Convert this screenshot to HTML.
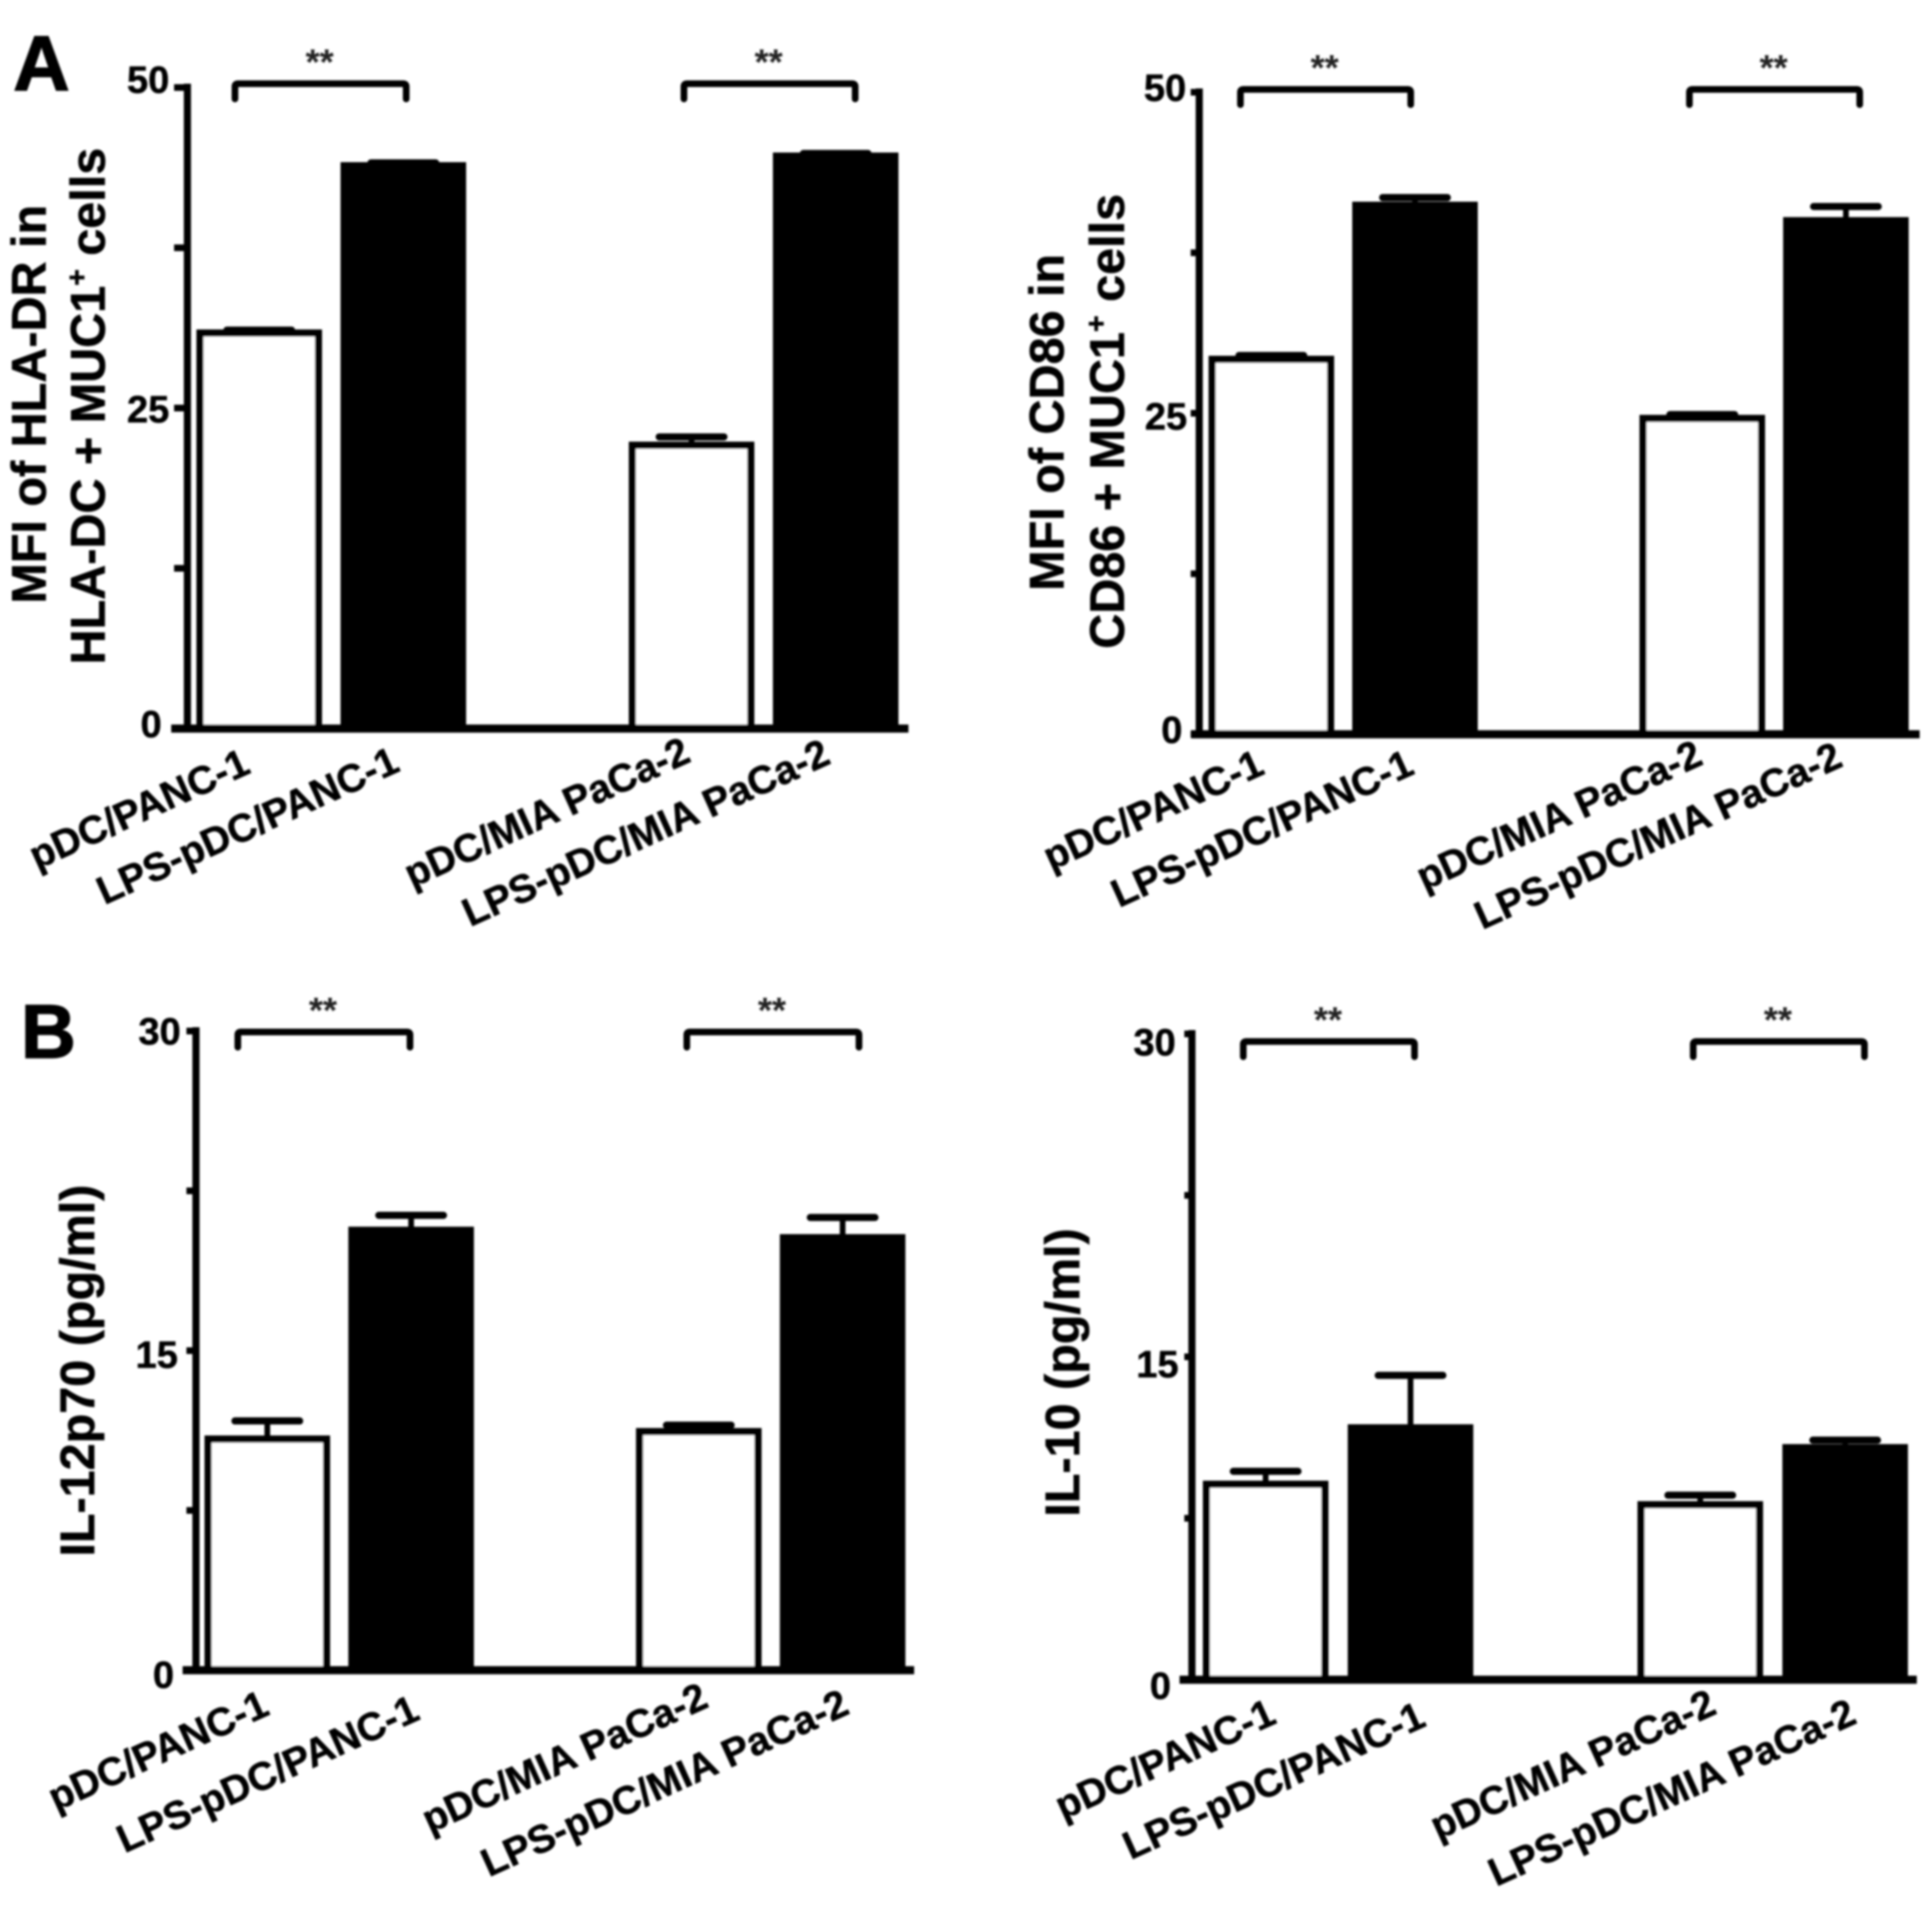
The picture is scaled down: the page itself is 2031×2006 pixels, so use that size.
<!DOCTYPE html>
<html lang="en">
<head>
<meta charset="utf-8">
<title>MFI and cytokine bar charts</title>
<style>
  html, body { margin: 0; padding: 0; background: #fff; }
  svg { display: block; }
  text { font-family: "Liberation Sans", Arial, sans-serif; font-weight: bold; fill: #000; }
</style>
</head>
<body>
<svg id="figure" xmlns="http://www.w3.org/2000/svg" width="2031" height="2006" viewBox="0 0 2031 2006">
  <defs>
    <filter id="soft" x="-2%" y="-2%" width="104%" height="104%"><feGaussianBlur stdDeviation="1"/></filter>
  </defs>
  <rect width="2031" height="2006" fill="#fff"/>
  <g id="root" filter="url(#soft)">
    <text x="14" y="95" font-size="82" stroke="#000" stroke-width="1.5">A</text>
    <text x="22" y="1112" font-size="80" stroke="#000" stroke-width="1.5">B</text>
  </g>
</svg>
<script>
// ---- data ----
const categories = ['pDC/PANC-1', 'LPS-pDC/PANC-1', 'pDC/MIA PaCa-2', 'LPS-pDC/MIA PaCa-2'];
const categorySlots = [0, 1, 3, 4];

const hlaDrValues = [30.85, 43.9, 22.1, 44.65];
const hlaDrErrors = [0.22, 0.22, 0.65, 0.2];
const hlaDrTicks = [0, 25, 50];

const cd86Values = [29.2, 41.2, 24.6, 40.0];
const cd86Errors = [0.3, 0.6, 0.3, 1.1];
const cd86Ticks = [0, 25, 50];

const il12Values = [10.85, 20.65, 11.2, 20.3];
const il12Errors = [0.85, 0.7, 0.3, 0.95];
const il12Ticks = [0, 15, 30];

const il10Values = [9.08, 11.7, 8.13, 10.78];
const il10Errors = [0.6, 2.44, 0.44, 0.35];
const il10Ticks = [0, 15, 30];

const significanceLabel = '**';
const significantPairs = [[0, 1], [2, 3]];

// ---- panel layout (geometry only) ----
const panels = [
  { id: 'hla-dr', values: hlaDrValues, errors: hlaDrErrors, ticks: hlaDrTicks,
    axisX: 197, yZero: 766, yTop: 92, xStart: 180, xEnd: 955, firstBar: 272.5, step: 151.5, tickLen: 14,
    tickRight: [170, 178, 178], tickNudge: [9, 15, 5.5],
    labelOffset: [[-7.5, 46], [-2, 44], [1, 34], [-3.5, 36]],
    bracketY: 88, bracketX: [247, 719], bracketLen: 180,
    titleLines: [
      { x: 48, y: 425, parts: ['MFI of HLA-DR in'] },
      { x: 110, y: 427, parts: ['HLA-DC + MUC1', '+', ' cells'] }
    ] },
  { id: 'cd86', values: cd86Values, errors: cd86Errors, ticks: cd86Ticks,
    axisX: 1260.7, yZero: 772, yTop: 97, xStart: 1252, xEnd: 2018, firstBar: 1336.5, step: 151, tickLen: 9,
    tickRight: [1243, 1248, 1247], tickNudge: [9, 17, 9],
    labelOffset: [[-5.5, 41], [1, 41], [2.5, 31], [-1.5, 33]],
    bracketY: 94, bracketX: [1304, 1776], bracketLen: 179,
    titleLines: [
      { x: 1118, y: 444, parts: ['MFI of CD86 in'] },
      { x: 1181.5, y: 443, parts: ['CD86 + MUC1', '+', ' cells'] }
    ] },
  { id: 'il-12p70', values: il12Values, errors: il12Errors, ticks: il12Ticks,
    axisX: 206, yZero: 1756, yTop: 1084, xStart: 192, xEnd: 961, firstBar: 281, step: 151.2, tickLen: 10,
    tickRight: [183, 187, 190], tickNudge: [18.5, 18, 14],
    labelOffset: [[4, 46], [11, 51], [12, 38], [9, 45]],
    bracketY: 1085, bracketX: [250, 722], bracketLen: 181,
    titleLines: [
      { x: 99, y: 1441, parts: ['IL-12p70 (pg/ml)'] }
    ] },
  { id: 'il-10', values: il10Values, errors: il10Errors, ticks: il10Ticks,
    axisX: 1253, yZero: 1766, yTop: 1087, xStart: 1240, xEnd: 2015, firstBar: 1330.5, step: 152.3, tickLen: 8,
    tickRight: [1231, 1239, 1236], tickNudge: [20, 21.5, 22.5],
    labelOffset: [[13, 45], [18, 48], [19, 35], [14, 45]],
    bracketY: 1095, bracketX: [1307, 1780], bracketLen: 180,
    titleLines: [
      { x: 1134.5, y: 1443, parts: ['IL-10 (pg/ml)'] }
    ] }
];

const NS = 'http://www.w3.org/2000/svg';
const root = document.getElementById('root');
const BAR_W = 132, STROKE = 7.5, CAP_W = 68;

function make(tag, attrs, parent) {
  const el = document.createElementNS(NS, tag);
  for (const k in attrs) el.setAttribute(k, attrs[k]);
  parent.appendChild(el);
  return el;
}

panels.forEach(function (p) {
  const maxTick = p.ticks[p.ticks.length - 1];
  const yScale = function (v) { return p.yZero - (v / maxTick) * (p.yZero - p.yTop); };
  const xScale = function (slot) { return p.firstBar + slot * p.step; };

  const g = make('g', {}, root);
  
  

  // bars and error bars
  p.values.forEach(function (v, i) {
    const cx = xScale(categorySlots[i]);
    const top = yScale(v);
    const capY = yScale(v + p.errors[i]);
    const black = i % 2 === 1;

    const stem = make('line', { x1: cx, x2: cx, y1: top, y2: capY, stroke: '#000', 'stroke-width': 6 }, g);
    
    

    const cap = make('line', { x1: cx - CAP_W / 2, x2: cx + CAP_W / 2, y1: capY, y2: capY, stroke: '#000', 'stroke-width': 7.5, 'stroke-linecap': 'round' }, g);
    
    

    const bar = make('rect', {
      x: cx - BAR_W / 2 + STROKE / 2, y: top,
      width: BAR_W - STROKE, height: p.yZero - top,
      fill: black ? '#000' : '#fff', stroke: '#000', 'stroke-width': STROKE
    }, g);
    
    

    const off = p.labelOffset[i];
    const lx = cx + off[0], ly = p.yZero + off[1];
    const label = make('text', {
      x: lx, y: ly, 'font-size': 41.5, 'text-anchor': 'end', stroke: '#000', 'stroke-width': 0.5,
      transform: 'rotate(-24.4 ' + lx + ' ' + ly + ')'
    }, g);
    label.textContent = categories[i];
    
    
  });

  // axes
  const yAxis = make('line', { x1: p.axisX, x2: p.axisX, y1: p.yTop - 4, y2: p.yZero + 3, stroke: '#000', 'stroke-width': 7.5 }, g);
  
  

  const xAxis = make('line', { x1: p.xStart, x2: p.xEnd, y1: p.yZero, y2: p.yZero, stroke: '#000', 'stroke-width': 8.5 }, g);
  
  

  // major ticks and labels
  p.ticks.forEach(function (t, i) {
    const y = yScale(t);
    const tick = make('line', { x1: p.axisX - p.tickLen, x2: p.axisX, y1: y, y2: y, stroke: '#000', 'stroke-width': 7 }, g);
    
    

    const tl = make('text', { x: p.tickRight[i], y: y + p.tickNudge[i], 'font-size': 40, 'text-anchor': 'end', stroke: '#000', 'stroke-width': 0.5 }, g);
    tl.textContent = String(t);
    
    
  });

  // minor ticks halfway between the labelled ticks
  for (let i = 0; i < p.ticks.length - 1; i++) {
    const y = yScale((p.ticks[i] + p.ticks[i + 1]) / 2);
    const minor = make('line', { x1: p.axisX - p.tickLen, x2: p.axisX, y1: y, y2: y, stroke: '#000', 'stroke-width': 7 }, g);
    
    
  }

  // significance brackets
  significantPairs.forEach(function (pair, i) {
    const bx = p.bracketX[i];
    const by = p.bracketY;
    const L = p.bracketLen;
    const br = make('path', {
      d: 'M' + bx + ' ' + (by + 16) + 'V' + (by + 3) + 'Q' + bx + ' ' + by + ' ' + (bx + 3) + ' ' + by +
         'H' + (bx + L - 3) + 'Q' + (bx + L) + ' ' + by + ' ' + (bx + L) + ' ' + (by + 3) + 'V' + (by + 16),
      fill: 'none', stroke: '#000', 'stroke-width': 7, 'stroke-linecap': 'round'
    }, g);
    
    

    const st = make('text', { x: bx + L / 2 - 1, y: by - 10, 'font-size': 38, 'text-anchor': 'middle' }, g);
    st.textContent = significanceLabel;
    st.style.fill = '#222';
    
    
  });

  // y axis title
  p.titleLines.forEach(function (line) {
    const t = make('text', {
      x: line.x, y: line.y, 'font-size': 51, 'text-anchor': 'middle', stroke: '#000', 'stroke-width': 0.6,
      transform: 'rotate(-90 ' + line.x + ' ' + line.y + ')'
    }, g);
    
    
    if (line.parts.length === 1) {
      t.textContent = line.parts[0];
    } else {
      t.appendChild(document.createTextNode(line.parts[0]));
      const sup = make('tspan', { dy: -19, 'font-size': 30 }, t);
      sup.textContent = line.parts[1];
      const rest = make('tspan', { dy: 19 }, t);
      rest.textContent = line.parts[2];
    }
  });
});
</script>
</body>
</html>
